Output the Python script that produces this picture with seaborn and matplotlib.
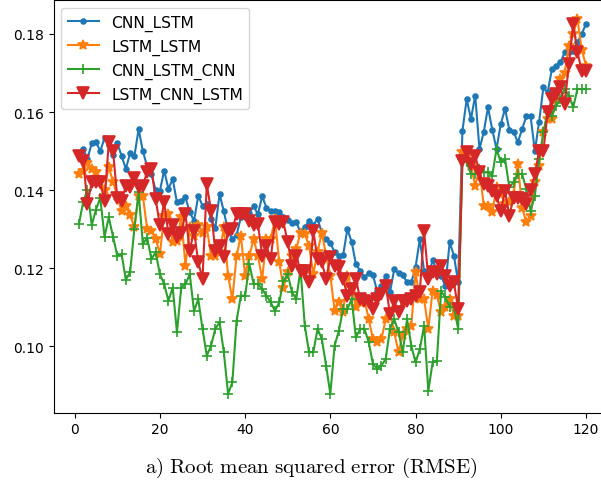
import numpy as np
import pandas as pd
import matplotlib
matplotlib.use("Agg")
import matplotlib.pyplot as plt
import seaborn as sns

epochs = list(range(1, 121))

cnn_lstm = [
    0.1490, 0.1505, 0.1480, 0.1520, 0.1522, 0.1500, 0.1533, 0.1515, 0.1490, 0.1520,
    0.1488, 0.1454, 0.1494, 0.1486, 0.1556, 0.1500, 0.1460, 0.1440, 0.1400, 0.1398,
    0.1450, 0.1403, 0.1428, 0.1368, 0.1373, 0.1381, 0.1343, 0.1321, 0.1385, 0.1360,
    0.1365, 0.1325, 0.1302, 0.1390, 0.1345, 0.1295, 0.1275, 0.1285, 0.1330, 0.1335,
    0.1342, 0.1358, 0.1338, 0.1384, 0.1355, 0.1345, 0.1345, 0.1343, 0.1332, 0.1322,
    0.1315, 0.1318, 0.1290, 0.1305, 0.1320, 0.1310, 0.1326, 0.1290, 0.1275, 0.1265,
    0.1240, 0.1230, 0.1233, 0.1300, 0.1267, 0.1210, 0.1193, 0.1176, 0.1187, 0.1182,
    0.1140, 0.1155, 0.1179, 0.1138, 0.1197, 0.1187, 0.1182, 0.1163, 0.1163, 0.1202,
    0.1274, 0.1193, 0.1180, 0.1220, 0.1193, 0.1180, 0.1153, 0.1266, 0.1232, 0.1163,
    0.1552, 0.1633, 0.1582, 0.1642, 0.1505, 0.1548, 0.1612, 0.1555, 0.1505, 0.1569,
    0.1608, 0.1555, 0.1550, 0.1522, 0.1556, 0.1589, 0.1589, 0.1500, 0.1575, 0.1663,
    0.1650, 0.1710, 0.1719, 0.1727, 0.1753, 0.1753, 0.1757, 0.1779, 0.1800, 0.1826,
]

lstm_lstm = [
    0.1440, 0.1450, 0.1470, 0.1455, 0.1445, 0.1420, 0.1400, 0.1460, 0.1420, 0.1385,
    0.1345, 0.1360, 0.1335, 0.1305, 0.1385, 0.1385, 0.1300, 0.1295, 0.1275, 0.1236,
    0.1334, 0.1338, 0.1266, 0.1270, 0.1330, 0.1206, 0.1304, 0.1283, 0.1309, 0.1291,
    0.1304, 0.1232, 0.1232, 0.1240, 0.1304, 0.1180, 0.1120, 0.1232, 0.1283, 0.1180,
    0.1232, 0.1274, 0.1232, 0.1172, 0.1274, 0.1274, 0.1326, 0.1215, 0.1150, 0.1189,
    0.1232, 0.1249, 0.1291, 0.1287, 0.1257, 0.1185, 0.1240, 0.1291, 0.1232, 0.1180,
    0.1091, 0.1112, 0.1086, 0.1180, 0.1150, 0.1100, 0.1112, 0.1120, 0.1069, 0.1018,
    0.1010, 0.1018, 0.1069, 0.1086, 0.1035, 0.0984, 0.1027, 0.1044, 0.1052, 0.1189,
    0.1120, 0.1120, 0.1044, 0.1142, 0.1130, 0.1086, 0.1100, 0.1121, 0.1078, 0.1078,
    0.1497, 0.1488, 0.1462, 0.1411, 0.1454, 0.1360, 0.1360, 0.1343, 0.1407, 0.1390,
    0.1364, 0.1368, 0.1390, 0.1467, 0.1355, 0.1317, 0.1334, 0.1420, 0.1462, 0.1548,
    0.1582, 0.1582, 0.1633, 0.1684, 0.1700, 0.1770, 0.1800, 0.1838, 0.1760, 0.1719,
]

cnn_lstm_cnn = [
    0.1313, 0.1370, 0.1400, 0.1310, 0.1350, 0.1380, 0.1280, 0.1330, 0.1280, 0.1231,
    0.1236, 0.1170, 0.1189, 0.1300, 0.1394, 0.1261, 0.1278, 0.1223, 0.1240, 0.1184,
    0.1159, 0.1116, 0.1150, 0.1035, 0.1150, 0.1159, 0.1184, 0.1090, 0.1120, 0.1044,
    0.0975, 0.1001, 0.1044, 0.1061, 0.0984, 0.0877, 0.0907, 0.1065, 0.1129, 0.1129,
    0.1210, 0.1159, 0.1159, 0.1146, 0.1129, 0.1112, 0.1090, 0.1112, 0.1167, 0.1184,
    0.1138, 0.1120, 0.1197, 0.1052, 0.0984, 0.0984, 0.1044, 0.1018, 0.0950, 0.0877,
    0.1001, 0.1039, 0.1095, 0.1095, 0.1120, 0.1022, 0.1044, 0.1044, 0.1010, 0.0954,
    0.0941, 0.0950, 0.0967, 0.1044, 0.1069, 0.1035, 0.0984, 0.1069, 0.1001, 0.0958,
    0.0992, 0.1052, 0.0885, 0.0958, 0.0962, 0.1140, 0.1125, 0.1100, 0.1100, 0.1044,
    0.1480, 0.1471, 0.1441, 0.1441, 0.1454, 0.1445, 0.1445, 0.1437, 0.1505, 0.1471,
    0.1480, 0.1407, 0.1420, 0.1441, 0.1441, 0.1402, 0.1347, 0.1385, 0.1479, 0.1548,
    0.1600, 0.1591, 0.1616, 0.1633, 0.1659, 0.1642, 0.1612, 0.1659, 0.1659, 0.1659,
]

lstm_cnn_lstm = [
    0.1488, 0.1475, 0.1364, 0.1420, 0.1420, 0.1420, 0.1373, 0.1522, 0.1500, 0.1380,
    0.1373, 0.1410, 0.1407, 0.1430, 0.1407, 0.1410, 0.1447, 0.1455, 0.1377, 0.1309,
    0.1368, 0.1287, 0.1309, 0.1279, 0.1291, 0.1338, 0.1244, 0.1296, 0.1215, 0.1172,
    0.1415, 0.1347, 0.1244, 0.1257, 0.1227, 0.1296, 0.1300, 0.1338, 0.1338, 0.1338,
    0.1320, 0.1309, 0.1313, 0.1232, 0.1257, 0.1223, 0.1317, 0.1313, 0.1317, 0.1266,
    0.1206, 0.1232, 0.1193, 0.1193, 0.1163, 0.1296, 0.1223, 0.1215, 0.1172, 0.1227,
    0.1206, 0.1202, 0.1172, 0.1129, 0.1146, 0.1172, 0.1120, 0.1116, 0.1112, 0.1095,
    0.1120, 0.1133, 0.1155, 0.1082, 0.1116, 0.1086, 0.1116, 0.1116, 0.1120, 0.1129,
    0.1138, 0.1296, 0.1172, 0.1189, 0.1185, 0.1204, 0.1180, 0.1155, 0.1163, 0.1095,
    0.1475, 0.1497, 0.1467, 0.1488, 0.1445, 0.1415, 0.1411, 0.1398, 0.1385, 0.1347,
    0.1398, 0.1334, 0.1380, 0.1379, 0.1377, 0.1365, 0.1400, 0.1440, 0.1500, 0.1500,
    0.1599, 0.1633, 0.1646, 0.1663, 0.1621, 0.1723, 0.1826, 0.1753, 0.1706, 0.1706,
]

series_names = ["CNN_LSTM", "LSTM_LSTM", "CNN_LSTM_CNN", "LSTM_CNN_LSTM"]
series_values = [cnn_lstm, lstm_lstm, cnn_lstm_cnn, lstm_cnn_lstm]
x_label = "a) Root mean squared error (RMSE)"

plt.rcParams["mathtext.fontset"] = "cm"

fig = plt.figure(figsize=(6.01, 4.85), dpi=100)
ax = fig.add_axes([0.0892, 0.147, 0.928, 0.850])

colors = ["#1f77b4", "#ff7f0e", "#2ca02c", "#d62728"]
markers = [".", "*", "+", "v"]
msizes = [7, 7.5, 7.5, 8.5]

for name, vals, c, m, ms in zip(series_names, series_values, colors, markers, msizes):
    df = pd.DataFrame({"epoch": epochs, "value": vals})
    sns.lineplot(data=df, x="epoch", y="value", ax=ax, color=c, marker=m,
                 markersize=ms, markeredgecolor=c, markerfacecolor=c,
                 markeredgewidth=1.2, linewidth=1.5, label=name)

ax.set_xlim(-4.95, 125.95)
ax.set_ylim(0.0829, 0.1886)
ax.set_xticks([0, 20, 40, 60, 80, 100, 120])
ax.set_yticks([0.10, 0.12, 0.14, 0.16, 0.18])
ax.set_yticklabels(["0.10", "0.12", "0.14", "0.16", "0.18"])
ax.set_ylabel("")
label_text = r"$\mathrm{" + x_label.replace(" ", r"\ ") + "}$"
ax.set_xlabel(label_text, fontsize=15)
ax.xaxis.set_label_coords(0.4625, -0.102)
ax.tick_params(labelsize=10)
ax.legend(loc="upper left", fontsize=11.2)

fig.savefig("out.png", dpi=100)
